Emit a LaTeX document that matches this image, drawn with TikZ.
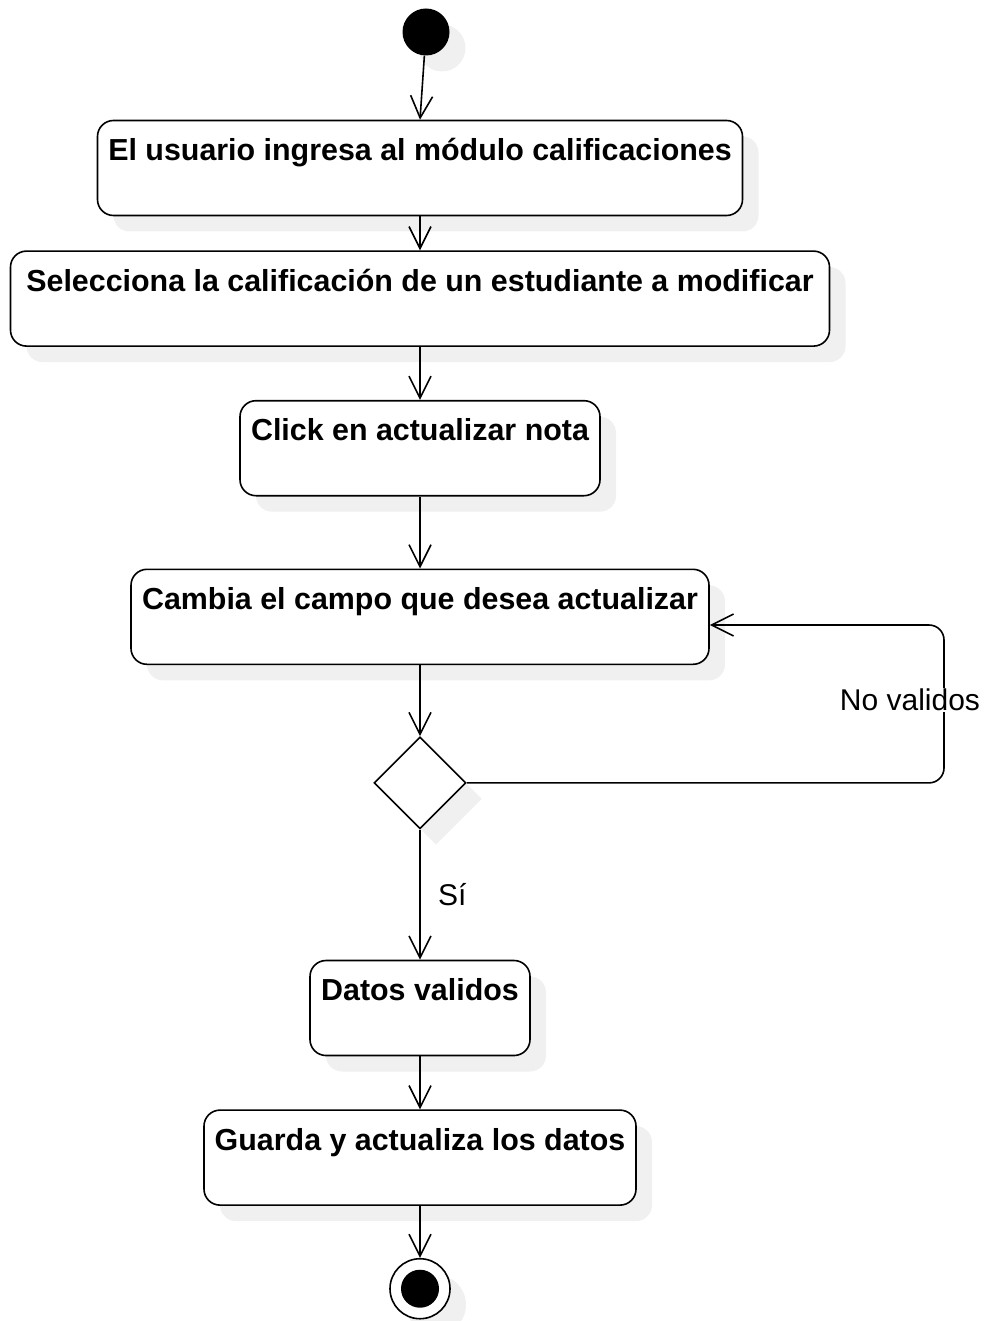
\documentclass[tikz,border=0pt]{standalone}
\usepackage{fontspec}
\setmainfont{Liberation Sans}
\usetikzlibrary{positioning, calc, shapes.geometric, shadows, arrows.meta}

\begin{document}
\begin{tikzpicture}[
            x=1bp, y=-1bp,
            node distance=35bp,
            sombra/.style={drop shadow={shadow xshift=16bp, shadow yshift=-16bp, fill=black!6, opacity=1}},
            actividad/.style={draw, line width=1.6bp, rounded corners=16bp, fill=white, sombra, align=center,
                inner xsep=0bp, inner ysep=0bp, minimum height=95bp, text height=40bp, text depth=55bp,
                font=\fontsize{30.4bp}{36bp}\selectfont\bfseries},
            decision/.style={draw, diamond, line width=1.6bp, fill=white, sombra, inner sep=0bp, minimum width=92bp, minimum height=92bp},
            flujo/.style={-{Straight Barb[length=22bp, width=22bp]}, line width=1.6bp},
            etiqueta/.style={font=\fontsize{30bp}{36bp}\selectfont}
        ]
            \useasboundingbox (0,0) rectangle (986,1321);

            % Actividades
            \node[actividad, minimum width=645bp] (act1) at (420,168) {El usuario ingresa al módulo calificaciones};
            \node[actividad, minimum width=819bp, below=34bp of act1] (act2) {Selecciona la calificación de un estudiante a modificar};
            \node[actividad, minimum width=360bp, below=53bp of act2] (act3) {Click en actualizar nota};
            \node[actividad, minimum width=578bp, below=72bp of act3] (act4) {Cambia el campo que desea actualizar};
            \node[decision, below=71bp of act4] (dec) {};
            \node[actividad, minimum width=220bp, below=130bp of dec] (act5) {Datos validos};
            \node[actividad, minimum width=432bp, below=53bp of act5] (act6) {Guarda y actualiza los datos};

            % Inicio y fin
            \node[circle, fill=black, sombra, inner sep=0bp, minimum size=47bp, above=64bp of act1, xshift=6bp] (inicio) {};
            \node[circle, draw, line width=1.6bp, fill=white, sombra, inner sep=0bp, minimum size=60bp, below=52bp of act6] (fin) {};
            \node[circle, fill=black, inner sep=0bp, minimum size=38bp] (finc) at (fin) {};

            % Transiciones
            \draw[flujo] (inicio) -- (act1.north);
            \draw[flujo] (act1) -- (act2);
            \draw[flujo] (act2) -- (act3);
            \draw[flujo] (act3) -- (act4);
            \draw[flujo] (act4) -- (dec);
            \draw[flujo] (dec) -- node[etiqueta, midway, right=14bp] {Sí} (act5);
            \draw[flujo] (act5) -- (act6);
            \draw[flujo] (act6) -- (fin);

            % Bucle de datos no validos
            \coordinate (bucle) at (944,625);
            \draw[flujo, rounded corners=15bp] (dec.east) -| (bucle) -- (act4.east |- bucle);
            \node[etiqueta, fill=white, inner sep=1bp] (novalidos) at (910,700) {No validos};
          \end{tikzpicture}
\end{document}
